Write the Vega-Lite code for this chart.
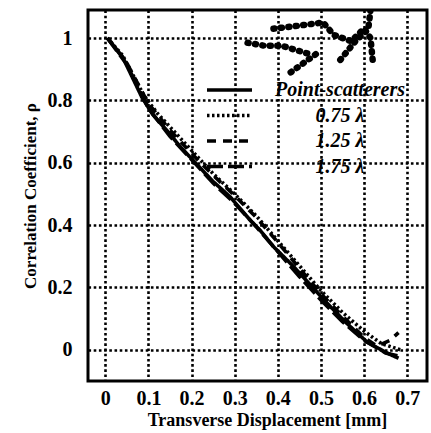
{
  "$schema": "https://vega.github.io/schema/vega-lite/v6.json",
  "width": 339,
  "height": 371,
  "autosize": {"type": "none"},
  "padding": {"left": 88, "top": 10, "right": 4, "bottom": 52},
  "background": "white",
  "config": {
    "font": "Liberation Serif",
    "view": {"stroke": "black", "strokeWidth": 3},
    "axis": {
      "domain": false,
      "ticks": false,
      "grid": true,
      "gridColor": "black",
      "gridOpacity": 1,
      "gridWidth": 2.6,
      "gridDash": [2.6, 2.6],
      "labelFont": "Liberation Serif",
      "labelFontWeight": "bold",
      "labelColor": "black",
      "labelFontSize": 20,
      "titleFont": "Liberation Serif",
      "titleFontWeight": "bold",
      "titleColor": "black",
      "titleFontSize": 18
    }
  },
  "data": {
    "values": [
      {"s": "Point-scatterers", "seg": "m1", "x": 0.005, "y": 1.0},
      {"s": "Point-scatterers", "seg": "m1", "x": 0.04, "y": 0.94},
      {"s": "Point-scatterers", "seg": "m1", "x": 0.085, "y": 0.81},
      {"s": "Point-scatterers", "seg": "m1", "x": 0.11, "y": 0.755},
      {"s": "Point-scatterers", "seg": "m1", "x": 0.145, "y": 0.7},
      {"s": "Point-scatterers", "seg": "m1", "x": 0.175, "y": 0.65},
      {"s": "Point-scatterers", "seg": "m1", "x": 0.213, "y": 0.594},
      {"s": "Point-scatterers", "seg": "m1", "x": 0.25, "y": 0.54},
      {"s": "Point-scatterers", "seg": "m1", "x": 0.29, "y": 0.49},
      {"s": "Point-scatterers", "seg": "m1", "x": 0.336, "y": 0.416},
      {"s": "Point-scatterers", "seg": "m1", "x": 0.36, "y": 0.382},
      {"s": "Point-scatterers", "seg": "m1", "x": 0.39, "y": 0.331},
      {"s": "Point-scatterers", "seg": "m1", "x": 0.436, "y": 0.268},
      {"s": "Point-scatterers", "seg": "m1", "x": 0.46, "y": 0.232},
      {"s": "Point-scatterers", "seg": "m1", "x": 0.514, "y": 0.15},
      {"s": "Point-scatterers", "seg": "m1", "x": 0.56, "y": 0.085},
      {"s": "Point-scatterers", "seg": "m1", "x": 0.607, "y": 0.025},
      {"s": "Point-scatterers", "seg": "m1", "x": 0.653, "y": -0.01},
      {"s": "Point-scatterers", "seg": "m1", "x": 0.68, "y": -0.027},

      {"s": "0.75 λ", "seg": "d1", "x": 0.005, "y": 1.0},
      {"s": "0.75 λ", "seg": "d1", "x": 0.04, "y": 0.945},
      {"s": "0.75 λ", "seg": "d1", "x": 0.09, "y": 0.815},
      {"s": "0.75 λ", "seg": "d1", "x": 0.12, "y": 0.76},
      {"s": "0.75 λ", "seg": "d1", "x": 0.16, "y": 0.7},
      {"s": "0.75 λ", "seg": "d1", "x": 0.2, "y": 0.64},
      {"s": "0.75 λ", "seg": "d1", "x": 0.25, "y": 0.565},
      {"s": "0.75 λ", "seg": "d1", "x": 0.3, "y": 0.5},
      {"s": "0.75 λ", "seg": "d1", "x": 0.35, "y": 0.43},
      {"s": "0.75 λ", "seg": "d1", "x": 0.4, "y": 0.35},
      {"s": "0.75 λ", "seg": "d1", "x": 0.45, "y": 0.27},
      {"s": "0.75 λ", "seg": "d1", "x": 0.5, "y": 0.19},
      {"s": "0.75 λ", "seg": "d1", "x": 0.55, "y": 0.12},
      {"s": "0.75 λ", "seg": "d1", "x": 0.6, "y": 0.06},
      {"s": "0.75 λ", "seg": "d1", "x": 0.64, "y": 0.02},
      {"s": "0.75 λ", "seg": "d1", "x": 0.685, "y": 0.0},

      {"s": "1.25 λ", "seg": "e1", "x": 0.005, "y": 1.0},
      {"s": "1.25 λ", "seg": "e1", "x": 0.05, "y": 0.92},
      {"s": "1.25 λ", "seg": "e1", "x": 0.1, "y": 0.79},
      {"s": "1.25 λ", "seg": "e1", "x": 0.15, "y": 0.705},
      {"s": "1.25 λ", "seg": "e1", "x": 0.2, "y": 0.63},
      {"s": "1.25 λ", "seg": "e1", "x": 0.25, "y": 0.56},
      {"s": "1.25 λ", "seg": "e1", "x": 0.3, "y": 0.495},
      {"s": "1.25 λ", "seg": "e1", "x": 0.35, "y": 0.425},
      {"s": "1.25 λ", "seg": "e1", "x": 0.4, "y": 0.345},
      {"s": "1.25 λ", "seg": "e1", "x": 0.45, "y": 0.262},
      {"s": "1.25 λ", "seg": "e1", "x": 0.5, "y": 0.18},
      {"s": "1.25 λ", "seg": "e1", "x": 0.55, "y": 0.108},
      {"s": "1.25 λ", "seg": "e1", "x": 0.6, "y": 0.04},
      {"s": "1.25 λ", "seg": "e1", "x": 0.63, "y": 0.012},
      {"s": "1.25 λ", "seg": "e1", "x": 0.66, "y": 0.03},
      {"s": "1.25 λ", "seg": "e1", "x": 0.68, "y": 0.055},

      {"s": "1.75 λ", "seg": "f1", "x": 0.005, "y": 1.0},
      {"s": "1.75 λ", "seg": "f1", "x": 0.05, "y": 0.915},
      {"s": "1.75 λ", "seg": "f1", "x": 0.1, "y": 0.775},
      {"s": "1.75 λ", "seg": "f1", "x": 0.15, "y": 0.685},
      {"s": "1.75 λ", "seg": "f1", "x": 0.2, "y": 0.61},
      {"s": "1.75 λ", "seg": "f1", "x": 0.25, "y": 0.535},
      {"s": "1.75 λ", "seg": "f1", "x": 0.3, "y": 0.47},
      {"s": "1.75 λ", "seg": "f1", "x": 0.35, "y": 0.395},
      {"s": "1.75 λ", "seg": "f1", "x": 0.4, "y": 0.315},
      {"s": "1.75 λ", "seg": "f1", "x": 0.45, "y": 0.235},
      {"s": "1.75 λ", "seg": "f1", "x": 0.5, "y": 0.16},
      {"s": "1.75 λ", "seg": "f1", "x": 0.55, "y": 0.09},
      {"s": "1.75 λ", "seg": "f1", "x": 0.6, "y": 0.03},
      {"s": "1.75 λ", "seg": "f1", "x": 0.65, "y": -0.01},
      {"s": "1.75 λ", "seg": "f1", "x": 0.68, "y": -0.02},

      {"s": "1.75 λ", "seg": "f2", "x": 0.33, "y": 0.985},
      {"s": "1.75 λ", "seg": "f2", "x": 0.37, "y": 0.975},
      {"s": "1.75 λ", "seg": "f2", "x": 0.41, "y": 0.975},
      {"s": "1.75 λ", "seg": "f2", "x": 0.47, "y": 0.95},
      {"s": "1.75 λ", "seg": "f3", "x": 0.39, "y": 1.03},
      {"s": "1.75 λ", "seg": "f3", "x": 0.45, "y": 1.04},
      {"s": "1.75 λ", "seg": "f3", "x": 0.505, "y": 1.05},
      {"s": "1.75 λ", "seg": "f3", "x": 0.53, "y": 1.01},
      {"s": "1.75 λ", "seg": "f3", "x": 0.57, "y": 0.99},
      {"s": "1.75 λ", "seg": "f3", "x": 0.6, "y": 1.03},
      {"s": "1.75 λ", "seg": "f3", "x": 0.615, "y": 1.0},
      {"s": "1.75 λ", "seg": "f3", "x": 0.62, "y": 0.93},
      {"s": "1.75 λ", "seg": "f4", "x": 0.43, "y": 0.89},
      {"s": "1.75 λ", "seg": "f4", "x": 0.5, "y": 0.96},
      {"s": "1.75 λ", "seg": "f5", "x": 0.545, "y": 0.93},
      {"s": "1.75 λ", "seg": "f5", "x": 0.58, "y": 0.99},
      {"s": "1.75 λ", "seg": "f5", "x": 0.61, "y": 1.03},
      {"s": "1.75 λ", "seg": "f5", "x": 0.615, "y": 1.09}
    ]
  },
  "encoding": {
    "x": {
      "field": "x", "type": "quantitative",
      "scale": {"domain": [-0.04, 0.746], "nice": false, "zero": false},
      "axis": {"values": [0, 0.1, 0.2, 0.3, 0.4, 0.5, 0.6, 0.7], "format": "~g", "labelPadding": 7, "title": "Transverse Displacement  [mm]", "titlePadding": 3, "titleX": 179}
    },
    "y": {
      "field": "y", "type": "quantitative",
      "scale": {"domain": [-0.1, 1.09], "nice": false, "zero": false},
      "axis": {"values": [0, 0.2, 0.4, 0.6, 0.8, 1], "format": "~g", "labelPadding": 16, "title": "Correlation Coefficient, ρ", "titleFontSize": 17, "titlePadding": 8}
    },
    "detail": {"field": "seg"},
    "order": {"value": null}
  },
  "layer": [
    {
      "transform": [{"filter": "indexof(['f2','f3','f4','f5'], datum.seg) < 0"}],
      "mark": {"type": "line", "color": "black", "strokeWidth": 3.6, "clip": true},
      "encoding": {
        "strokeDash": {
          "field": "s", "type": "nominal",
          "scale": {"domain": ["Point-scatterers", "0.75 λ", "1.25 λ", "1.75 λ"], "range": [[1, 0], [2.5, 2.5], [9, 7], [16, 5]]},
          "legend": {
            "orient": "none", "legendX": 129.5, "legendY": 68, "title": null,
            "symbolType": "M-2.25,0H2.25", "symbolSize": 400, "symbolStrokeWidth": 3.5, "symbolStrokeColor": "black",
            "labelAlign": "center", "labelOffset": 98.5, "labelFontSize": 20, "labelFont": "Liberation Serif",
            "labelFontWeight": "bold", "labelFontStyle": "italic", "labelColor": "black", "labelLimit": 0,
            "rowPadding": 3.5, "padding": 0
          }
        }
      }
    },
    {
      "transform": [{"filter": "indexof(['f2','f3','f4','f5'], datum.seg) >= 0"}],
      "mark": {"type": "line", "color": "black", "strokeWidth": 6.5, "strokeCap": "round", "strokeDash": [1, 6.5], "clip": true}
    }
  ]
}
